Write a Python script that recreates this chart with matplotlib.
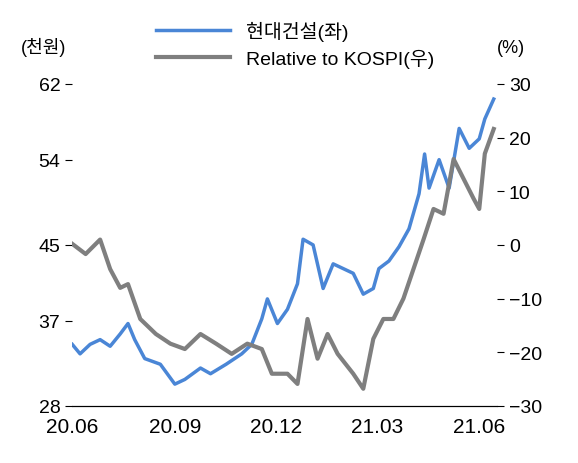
import matplotlib
matplotlib.use("Agg")
import matplotlib.pyplot as plt
import pandas as pd

plt.rcParams['font.family'] = ['Liberation Sans', 'Noto Sans CJK KR', 'DejaVu Sans']

blue_dates = ["2020-06-01","2020-06-08","2020-06-17","2020-06-26","2020-07-05","2020-07-14","2020-07-21","2020-07-27","2020-08-05","2020-08-19","2020-09-01","2020-09-10","2020-09-24","2020-10-03","2020-10-17","2020-10-31","2020-11-09","2020-11-18","2020-11-23","2020-12-02","2020-12-11","2020-12-20","2020-12-25","2021-01-03","2021-01-12","2021-01-21","2021-01-30","2021-02-08","2021-02-17","2021-02-26","2021-03-03","2021-03-12","2021-03-21","2021-03-30","2021-04-08","2021-04-13","2021-04-17","2021-04-26","2021-05-05","2021-05-14","2021-05-23","2021-06-01","2021-06-06","2021-06-14"]
blue_vals = [34.5,33.5,34.5,35.0,34.3,35.6,36.7,35.0,33.0,32.4,30.3,30.8,32.0,31.4,32.4,33.5,34.5,37.2,39.3,36.7,38.2,40.9,45.6,45.0,40.4,43.0,42.5,42.0,39.8,40.4,42.5,43.3,44.8,46.7,50.4,54.6,51.0,54.0,51.0,57.3,55.2,56.2,58.3,60.4]

gray_dates = ["2020-06-01","2020-06-13","2020-06-26","2020-07-05","2020-07-14","2020-07-21","2020-08-01","2020-08-15","2020-08-28","2020-09-10","2020-09-24","2020-10-08","2020-10-22","2020-11-05","2020-11-18","2020-11-27","2020-12-11","2020-12-20","2020-12-29","2021-01-07","2021-01-16","2021-01-25","2021-02-08","2021-02-17","2021-02-26","2021-03-07","2021-03-16","2021-03-25","2021-04-03","2021-04-12","2021-04-21","2021-04-30","2021-05-09","2021-05-18","2021-05-27","2021-06-01","2021-06-06","2021-06-14"]
gray_vals = [0.2,-1.7,1.0,-4.5,-8.0,-7.3,-13.8,-16.6,-18.4,-19.4,-16.6,-18.4,-20.3,-18.4,-19.4,-24.0,-24.0,-25.9,-13.8,-21.2,-16.6,-20.3,-24.0,-26.8,-17.5,-13.8,-13.8,-10.0,-4.5,1.0,6.7,5.8,16.0,12.3,8.6,6.7,17.0,21.6]

left_ticks = [28, 37, 45, 54, 62]
right_ticks = [-30, -20, -10, 0, 10, 20, 30]
x_ticks = ["2020-06-01","2020-09-01","2020-12-01","2021-03-01","2021-06-01"]
x_labels = ["20.06","20.09","20.12","21.03","21.06"]

fig = plt.figure(figsize=(5.78, 4.64), dpi=100)
ax = fig.add_axes([0.125, 0.123, 0.735, 0.694])
ax2 = ax.twinx()
l1, = ax.plot(pd.to_datetime(blue_dates), blue_vals, color='#4a86d6', lw=2.5, label='현대건설(좌)')
l2, = ax2.plot(pd.to_datetime(gray_dates), gray_vals, color='#7f7f7f', lw=3, label='Relative to KOSPI(우)')
ax.set_ylim(28, 62); ax.set_yticks(left_ticks)
ax2.set_ylim(-30, 30); ax2.set_yticks(right_ticks)
ax.set_xlim(pd.Timestamp("2020-06-01"), pd.Timestamp("2021-06-17"))
ax.set_xticks(pd.to_datetime(x_ticks)); ax.set_xticklabels(x_labels)
for a in (ax, ax2):
    for s in ('top', 'left', 'right'):
        a.spines[s].set_visible(False)
    a.tick_params(labelsize=14, length=5)
ax.tick_params(axis='x', length=0, pad=8, labelsize=15)
ax.text(-0.12, 1.1, '(천원)', transform=ax.transAxes, fontsize=13)
ax2.text(1.0, 1.1, '(%)', transform=ax.transAxes, fontsize=13)
fig.legend(handles=[l1, l2], loc='upper left', bbox_to_anchor=(0.24, 0.99), frameon=False, fontsize=14, handlelength=3.8, labelspacing=0.4)
fig.savefig('out.png', dpi=100)
